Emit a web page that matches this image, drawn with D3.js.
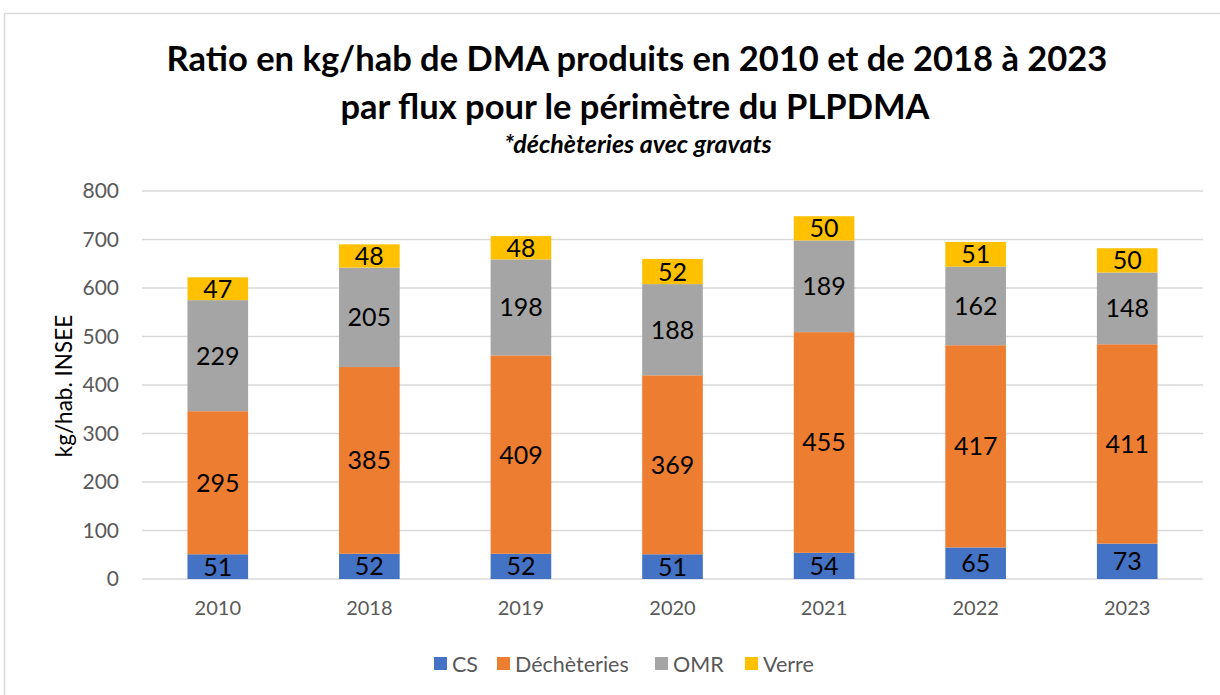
<!DOCTYPE html>
<html><head><meta charset="utf-8">
<script src="https://cdn.jsdelivr.net/npm/d3@7"></script>
<style>body{margin:0;background:#fff;} text{font-family:Lato,"Open Sans",sans-serif;}</style>
</head><body>
<svg id="c" width="1220" height="695"></svg>
<script>
const categories = ["2010","2018","2019","2020","2021","2022","2023"];
const seriesNames = ["CS","Déchèteries","OMR","Verre"];
const csValues = [51,52,52,51,54,65,73];
const dechValues = [295,385,409,369,455,417,411];
const omrValues = [229,205,198,188,189,162,148];
const verreValues = [47,48,48,52,50,51,50];
const yTicks = [0,100,200,300,400,500,600,700,800];
const colors = ["#4472C4","#ED7D31","#A5A5A5","#FFC000"];

const seriesValues = [csValues, dechValues, omrValues, verreValues];
const table = categories.map((c,i)=>{const o={cat:c}; seriesNames.forEach((s,j)=>o[s]=seriesValues[j][i]); return o;});

const svg = d3.select("#c");
svg.append("rect").attr("x",4.5).attr("y",13.5).attr("width",1240).attr("height",700)
  .attr("fill","#fff").attr("stroke","#D9D9D9").attr("stroke-width",1.5);

const x = d3.scaleBand().domain(categories).range([142,1203]).paddingInner(0.6).paddingOuter(0.3);
const y = d3.scaleLinear().domain([0,800]).range([579,191]);

svg.append("g").selectAll("line").data(yTicks).join("line")
  .attr("x1",142).attr("x2",1203).attr("y1",d=>y(d)).attr("y2",d=>y(d))
  .attr("stroke","#D9D9D9").attr("stroke-width",1.3);

const yAxis = d3.axisLeft(y).tickValues(yTicks).tickSize(0).tickPadding(0);
const yg = svg.append("g").attr("transform","translate(119,0)").call(yAxis);
yg.select(".domain").remove();
yg.selectAll("text").attr("fill","#595959").style("font-size","21px").style("font-family","Lato,'Open Sans',sans-serif");

const xAxis = d3.axisBottom(x).tickSize(0).tickPadding(0);
const xg = svg.append("g").attr("transform","translate(0,601)").call(xAxis);
xg.select(".domain").remove();
xg.selectAll("text").attr("fill","#595959").style("font-size","20px").style("font-family","Lato,'Open Sans',sans-serif");

const stack = d3.stack().keys(seriesNames)(table);
const layers = svg.append("g").selectAll("g").data(stack).join("g").attr("fill",(d,i)=>colors[i]);
layers.selectAll("rect").data(d=>d).join("rect")
  .attr("x",d=>x(d.data.cat)).attr("width",x.bandwidth())
  .attr("y",d=>y(d[1])).attr("height",d=>y(d[0])-y(d[1]));
layers.selectAll("text").data(d=>d.map(v=>({v,key:d.key}))).join("text")
  .attr("x",d=>x(d.v.data.cat)+x.bandwidth()/2)
  .attr("y",d=>(y(d.v[0])+y(d.v[1]))/2)
  .attr("dy","0.36em").attr("text-anchor","middle").attr("fill","#000")
  .style("font-size","25px").text(d=>d.v.data[d.key]);

svg.append("text").attr("transform","translate(72,386) rotate(-90)").attr("text-anchor","middle")
  .attr("fill","#000").style("font-size","22.5px").text("kg/hab. INSEE");

svg.append("text").attr("x",637).attr("y",71).attr("text-anchor","middle").style("font-size","34.5px").style("font-weight","bold").attr("fill","#000")
  .text("Ratio en kg/hab de DMA produits en 2010 et de 2018 à 2023");
svg.append("text").attr("x",635).attr("y",119).attr("text-anchor","middle").style("font-size","34.5px").style("font-weight","bold").attr("fill","#000")
  .text("par flux pour le périmètre du PLPDMA");
svg.append("text").attr("x",638).attr("y",153).attr("text-anchor","middle").style("font-size","25px").style("font-weight","bold").style("font-style","italic").attr("fill","#000")
  .text("*déchèteries avec gravats");

const legendX = [434, 497, 655, 745];
const lg = svg.append("g").selectAll("g").data(seriesNames).join("g")
  .attr("transform",(d,i)=>`translate(${legendX[i]},657)`);
lg.append("rect").attr("width",13).attr("height",13).attr("fill",(d,i)=>colors[i]);
lg.append("text").attr("x",18).attr("y",7).attr("dy","0.36em").attr("fill","#595959").style("font-size","21.5px").text(d=>d);
</script>
</body></html>
